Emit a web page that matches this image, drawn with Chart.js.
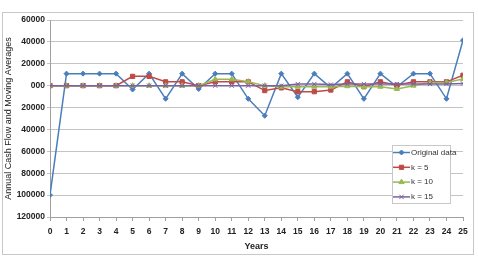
<!DOCTYPE html>
<html>
<head>
<meta charset="utf-8">
<script src="https://cdn.jsdelivr.net/npm/chart.js@4/dist/chart.umd.min.js"></script>
<style>
  html, body { margin: 0; padding: 0; background: #fff; }
  canvas { display: block; }
</style>
</head>
<body>
<canvas id="cashChart" width="478" height="257"></canvas>
<script>
// ---- data ----
const years = [0, 1, 2, 3, 4, 5, 6, 7, 8, 9, 10, 11, 12, 13, 14, 15, 16, 17, 18, 19, 20, 21, 22, 23, 24, 25];
const originalData = [-100000, 11000, 11000, 11000, 11000, -3500, 11000, -12000, 11000, -3000, 11000, 11000, -12000, -27500, 11000, -10500, 11000, -2000, 11000, -12000, 11000, -1000, 11000, 11000, -12000, 41500];
const k5Data = [0, 0, 0, 0, 0, 8500, 8500, 3500, 3500, 0, 3500, 3500, 3500, -4500, -2000, -5500, -5500, -4000, 3500, -1000, 3500, 500, 3500, 3500, 3500, 9500];
const k10Data = [0, 0, 0, 0, 0, 0, 0, 0, 0, 0, 5800, 5800, 3700, 0, -1000, -1000, -1000, -1000, -500, -1000, -1000, -3000, 0, 3000, 3000, 6000];
const k15Data = [0, 0, 0, 0, 0, 0, 0, 0, 0, 0, 0, 0, 0, 0, 0, 1500, 1500, 1000, 1500, 1500, 1500, 1500, 1500, 1500, 1500, 2000];
const seriesNames = ['Original data', 'k = 5', 'k = 10', 'k = 15'];

const FONT = "'Liberation Sans', Arial, sans-serif";
const toXY = arr => arr.map((v, i) => ({ x: years[i], y: v }));

function makeSet(name, arr, color, style, r, order) {
    return {
        label: name, data: toXY(arr), borderColor: color, backgroundColor: color,
        borderWidth: 1.5, pointStyle: style, pointRadius: r, pointBorderWidth: 1,
        pointBorderColor: color, pointBackgroundColor: color, tension: 0, order: order
    };
}

// frame around the whole chart + legend box inside the plot
const framePlugin = {
    id: 'frame',
    beforeDraw(chart) {
        const c = chart.ctx;
        c.save();
        c.fillStyle = '#fff'; c.fillRect(0, 0, chart.width, chart.height);
        c.strokeStyle = '#c8c8c8'; c.lineWidth = 1;
        c.strokeRect(2.5, 12.5, 471, 242);
        c.restore();
    },
    afterDraw(chart) {
        const c = chart.ctx;
        const bx = 392, by = 145, bw = 58, bh = 58;
        c.save();
        c.fillStyle = '#fff'; c.fillRect(bx, by, bw, bh);
        c.strokeStyle = '#c8c8c8'; c.lineWidth = 1;
        c.strokeRect(bx + 0.5, by + 0.5, bw, bh);
        c.font = '8px ' + FONT; c.textBaseline = 'middle'; c.fillStyle = '#333';
        chart.data.datasets.forEach((ds, i) => {
            const y = by + 7.5 + i * 14.8;
            c.strokeStyle = ds.borderColor; c.lineWidth = 1.5;
            c.beginPath(); c.moveTo(bx + 1, y); c.lineTo(bx + 18, y); c.stroke();
            c.fillStyle = ds.borderColor; c.strokeStyle = ds.borderColor; c.lineWidth = 1;
            Chart.helpers.drawPoint(c, { pointStyle: ds.pointStyle, radius: ds.pointRadius, rotation: 0, borderWidth: 1 }, bx + 9.5, y);
            c.fillStyle = '#333';
            c.fillText(ds.label, bx + 19, y);
        });
        c.restore();
    }
};

new Chart(document.getElementById('cashChart').getContext('2d'), {
    type: 'line',
    data: {
        datasets: [
            makeSet(seriesNames[0], originalData, '#4a7ebb', 'rectRot', 2.5, 4),
            makeSet(seriesNames[1], k5Data, '#be4b48', 'rect', 3, 3),
            makeSet(seriesNames[2], k10Data, '#98b954', 'triangle', 3, 2),
            makeSet(seriesNames[3], k15Data, '#7d60a0', 'crossRot', 3, 1)
        ]
    },
    options: {
        responsive: false, animation: false,
        layout: { padding: { left: 0, top: 20, right: 15, bottom: 0 } },
        plugins: { legend: { display: false }, tooltip: { enabled: false } },
        scales: {
            x: {
                type: 'linear', min: 0, max: 25,
                afterFit: s => { s.height = 40; },
                ticks: { stepSize: 1, padding: 6, color: '#222', font: { family: FONT, size: 8.5, weight: 'bold' } },
                grid: { drawOnChartArea: false, tickLength: 4, color: '#a0a0a0' },
                border: { color: '#a0a0a0' },
                title: { display: true, text: 'Years', color: '#222', padding: { top: 0, bottom: 5 }, font: { family: FONT, size: 9, weight: 'bold' } }
            },
            y: {
                min: -120000, max: 60000,
                afterFit: s => { s.width = 50; },
                ticks: {
                    stepSize: 20000, padding: 2, color: '#222', font: { family: FONT, size: 8.5, weight: 'bold' },
                    callback: v => v === 0 ? '000' : String(Math.abs(v))
                },
                grid: { color: '#c4c4c4', tickLength: 3 },
                border: { color: '#a0a0a0' },
                title: { display: true, text: 'Annual Cash Flow and Moving Averages', color: '#222', padding: { top: 3, bottom: 0 }, font: { family: FONT, size: 9 } }
            }
        }
    },
    plugins: [framePlugin]
});
</script>
</body>
</html>
